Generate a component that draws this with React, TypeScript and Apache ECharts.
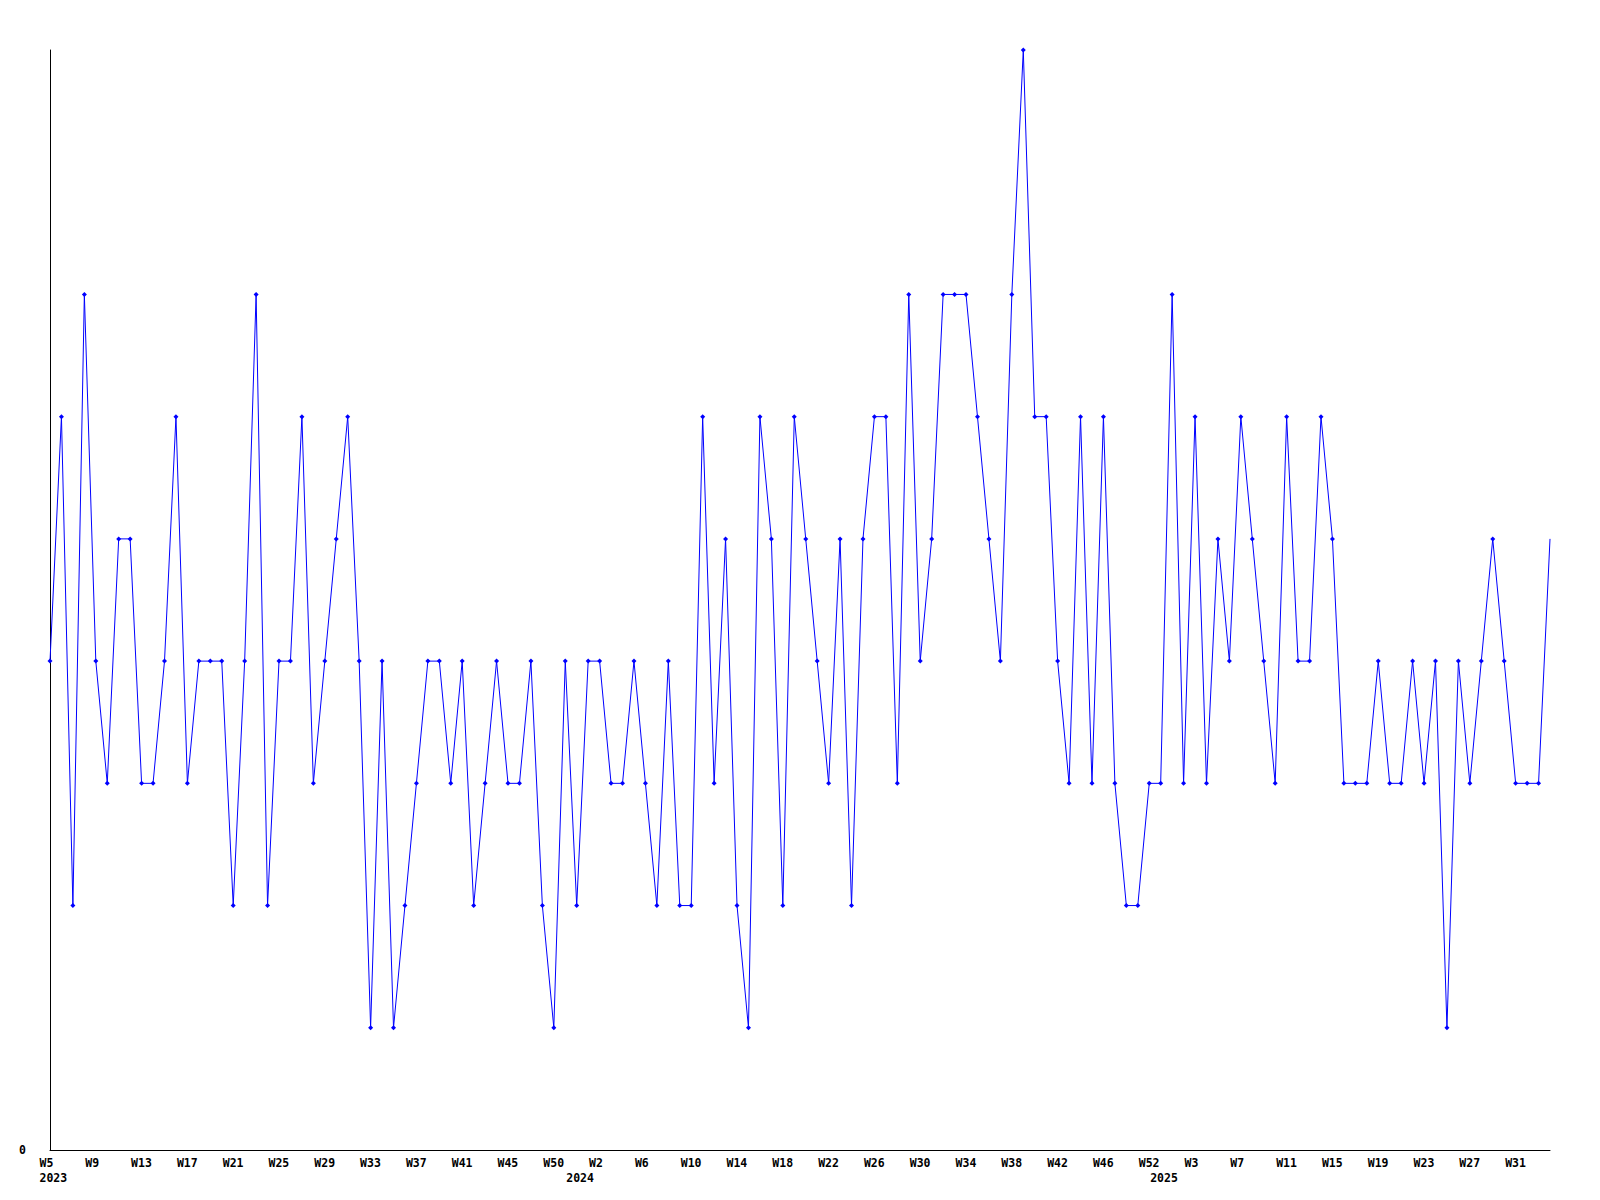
import React, { useEffect, useRef } from "react";
import * as echarts from "echarts";

// Weekly values
const values2023 = [
  4, 6, 2, 7, 4, 3, 5, 5, 3, 3, 4, 6, 3, 4, 4, 4, 2, 4, 7, 2, 4, 4, 6, 3, 4, 5, 6,
  4, 1, 4, 1, 2, 3, 4, 4, 3, 4, 2, 3, 4, 3, 3, 4, 2, 1, 4, 2, 4,
];
const values2024 = [
  4, 3, 3, 4, 3,
  2, 4, 2, 2, 6, 3, 5, 2, 1, 6, 5, 2, 6, 5, 4, 3, 5, 2, 5, 6, 6, 3, 7, 4, 5, 7,
  7, 7, 6, 5, 4, 7, 9, 6, 6, 4, 3, 6, 3, 6, 3, 2, 2, 3, 3, 7, 3,
];
const values2025 = [
  6, 3, 5, 4, 6,
  5, 4, 3, 6, 4, 4, 6, 5, 3, 3, 3, 4, 3, 3, 4, 3, 4, 1, 4, 3, 4, 5, 4, 3, 3, 3, 5,
];

// Categories (one per week)
const weeks2023 = Array.from({ length: 48 }, (_, i) => `2023-W${i + 5}`);
const weeks2024 = Array.from({ length: 52 }, (_, i) => `2024-W${i + 1}`);
const weeks2025 = Array.from({ length: 32 }, (_, i) => `2025-W${i + 1}`);

// Tick labels shown every 4th week
const tickStep = 4;
const tickLabels = [
  "W5", "W9", "W13", "W17", "W21", "W25", "W29", "W33", "W37", "W41", "W45", "W50",
  "W2", "W6", "W10", "W14", "W18", "W22", "W26", "W30", "W34", "W38", "W42", "W46",
  "W52", "W3", "W7", "W11", "W15", "W19", "W23", "W27", "W31",
];
const yearLabels = ["2023", "2024", "2025"];
const yearLabelIndex = [0, 46, 97];

const FONT = "'DejaVu Sans Mono', 'Liberation Mono', monospace";

export default function App() {
  const ref = useRef<HTMLDivElement>(null);

  useEffect(() => {
    document.body.style.margin = "0";
    if (!ref.current) return;
    const chart = echarts.init(ref.current, null, { renderer: "svg" });
    const categories = [...weeks2023, ...weeks2024, ...weeks2025];
    const values = [...values2023, ...values2024, ...values2025];
    const data = values.map((v, i) =>
      i === values.length - 1 ? { value: v, symbol: "none" } : v
    );

    const textStyle = {
      fontFamily: FONT,
      fontWeight: "bold" as const,
      fontSize: 11.5,
      lineHeight: 15,
      color: "#000",
    };

    chart.setOption({
      animation: false,
      backgroundColor: "#ffffff",
      grid: { left: 50, right: 50, top: 50, bottom: 50 },
      xAxis: {
        type: "category",
        data: categories,
        boundaryGap: false,
        axisLine: { show: true, lineStyle: { color: "#000", width: 1 } },
        axisTick: { show: false },
        splitLine: { show: false },
        axisLabel: {
          interval: 0,
          margin: 5,
          align: "center",
          ...textStyle,
          formatter: (_v: string, i: number) => {
            const yi = yearLabelIndex.indexOf(i);
            let first = "";
            if (i % tickStep === 0 && tickLabels[i / tickStep] !== undefined) {
              first = `{w|${tickLabels[i / tickStep]}}`;
            }
            if (yi >= 0) {
              return `${first || "{w| }"}\n{w|${yearLabels[yi]}}`;
            }
            return first;
          },
          rich: {
            w: { ...textStyle, width: 21, align: "left" },
          },
        },
      },
      yAxis: {
        type: "value",
        min: 0,
        max: 9,
        interval: 9,
        axisLine: { show: true, lineStyle: { color: "#000", width: 1 } },
        axisTick: { show: false },
        splitLine: { show: false },
        axisLabel: {
          margin: 24,
          ...textStyle,
          formatter: (v: number) => (v === 0 ? "0" : ""),
        },
      },
      series: [
        {
          type: "line",
          data,
          symbol: "diamond",
          symbolSize: 5,
          showAllSymbol: true,
          lineStyle: { color: "#0000ff", width: 1 },
          itemStyle: { color: "#0000ff" },
        },
      ],
    });

    return () => chart.dispose();
  }, []);

  return (
    <div
      ref={ref}
      style={{ position: "absolute", left: 0, top: 0, width: 1600, height: 1200 }}
    />
  );
}
